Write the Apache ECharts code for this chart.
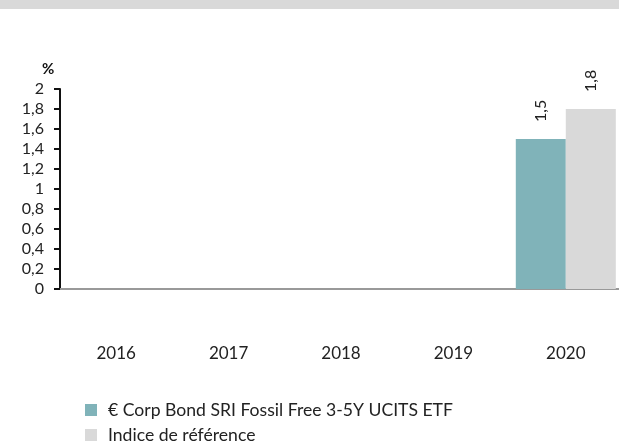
<!DOCTYPE html>
<html>
<head>
<meta charset="utf-8">
<script src="https://cdn.jsdelivr.net/npm/echarts@6/dist/echarts.min.js"></script>
<style>
  html, body { margin: 0; padding: 0; background: #fff; overflow: hidden; }
  #chart { width: 622px; height: 443px; }
</style>
</head>
<body>
<div id="chart"></div>
<script>
const years = ['2016', '2017', '2018', '2019', '2020'];
const fundValues = ['-', '-', '-', '-', 1.5];
const indexValues = ['-', '-', '-', '-', 1.8];
const fundName = '€ Corp Bond SRI Fossil Free 3-5Y UCITS ETF';
const indexName = 'Indice de référence';

const font = 'Lato, "Open Sans", sans-serif';
const comma = v => String(v).replace('.', ',');

const chart = echarts.init(document.getElementById('chart'));

const barLabel = {
  show: true,
  position: 'top',
  rotate: 90,
  align: 'left',
  verticalAlign: 'middle',
  distance: 17,
  fontSize: 16,
  color: '#222',
  formatter: p => comma(p.value)
};

// one legend per line so the vertical list never wraps into columns
const legendItem = (name, top) => ({
  left: 85,
  top: top,
  padding: 0,
  itemWidth: 12,
  itemHeight: 12,
  icon: 'rect',
  textStyle: { fontSize: 17.6, color: '#222', fontFamily: font, padding: [0, 0, 0, 6] },
  data: [name]
});

chart.setOption({
  animation: false,
  textStyle: { fontFamily: font },
  graphic: [
    { type: 'rect', left: 0, top: 0, shape: { width: 622, height: 9 }, style: { fill: '#d9d9d9' } },
    { type: 'text', left: 42, top: 62, style: { text: '%', font: 'bold 15px ' + font, fill: '#111' } }
  ],
  grid: { left: 60, right: 0, top: 89, bottom: 154 },
  legend: [legendItem(fundName, 401), legendItem(indexName, 426)],
  xAxis: {
    type: 'category',
    data: years,
    axisLine: { lineStyle: { color: '#999', width: 2 } },
    axisTick: { show: false },
    axisLabel: { margin: 56, fontSize: 17, color: '#222' }
  },
  yAxis: {
    type: 'value',
    min: 0,
    max: 2,
    interval: 0.2,
    splitLine: { show: false },
    axisLine: { show: true, lineStyle: { color: '#111', width: 2 } },
    axisTick: { show: true, length: 6, lineStyle: { color: '#111', width: 2 } },
    axisLabel: {
      fontSize: 16,
      color: '#222',
      margin: 16,
      formatter: v => comma(Math.round(v * 10) / 10)
    }
  },
  series: [
    {
      name: fundName,
      type: 'bar',
      data: fundValues,
      barWidth: 50,
      barGap: '0%',
      itemStyle: { color: '#80b3b9' },
      label: barLabel
    },
    {
      name: indexName,
      type: 'bar',
      data: indexValues,
      barWidth: 50,
      itemStyle: { color: '#d9d9d9' },
      label: barLabel
    }
  ]
});
</script>
</body>
</html>
